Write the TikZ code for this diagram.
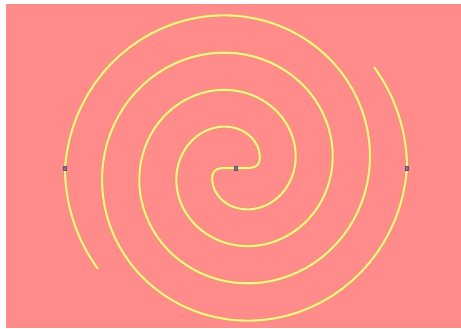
\documentclass[tikz,border=0pt]{standalone}
\usetikzlibrary{positioning}

\definecolor{rosebg}{RGB}{255,139,139}
\definecolor{strand}{RGB}{255,236,150}
\definecolor{strandedge}{RGB}{226,160,88}
\definecolor{jointgrey}{RGB}{132,120,152}

\begin{document}
\begin{tikzpicture}[
    x=1pt, y=1pt,
    spiral line/.style={
        draw=strandedge, line width=0.85pt, double=strand,
        double distance=2.1pt, line cap=round
    },
    joint/.style={
        draw=jointgrey!70!black, fill=jointgrey, line width=0.3pt,
        inner sep=0pt, minimum width=3pt, minimum height=4pt
    }
]
    \fill[white] (0,0) rectangle (461,329);
    \fill[rosebg] (6,1) rectangle (461,325);

    \coordinate (hub) at (236,161);

    % two interleaved arms, the second one turned half way round
    \foreach \rot in {0,180} {
        \begin{scope}[shift={(hub)}, rotate=\rot]
            \draw[spiral line] (0,0) -- (11,0) to[out=0, in=258.6] (15:24.1)
                -- plot[domain=15:720, samples=160, variable=\t]
                    (\t:{21+18.75*\t/90})
                arc[start angle=0, end angle=36, radius=171];
        \end{scope}
    }

    \node[joint] (centre joint) at (hub) {};
    \node[joint] (east joint) at (407,161) {};
    \node[joint] (west joint) at (65,161) {};

\end{tikzpicture}
\end{document}
